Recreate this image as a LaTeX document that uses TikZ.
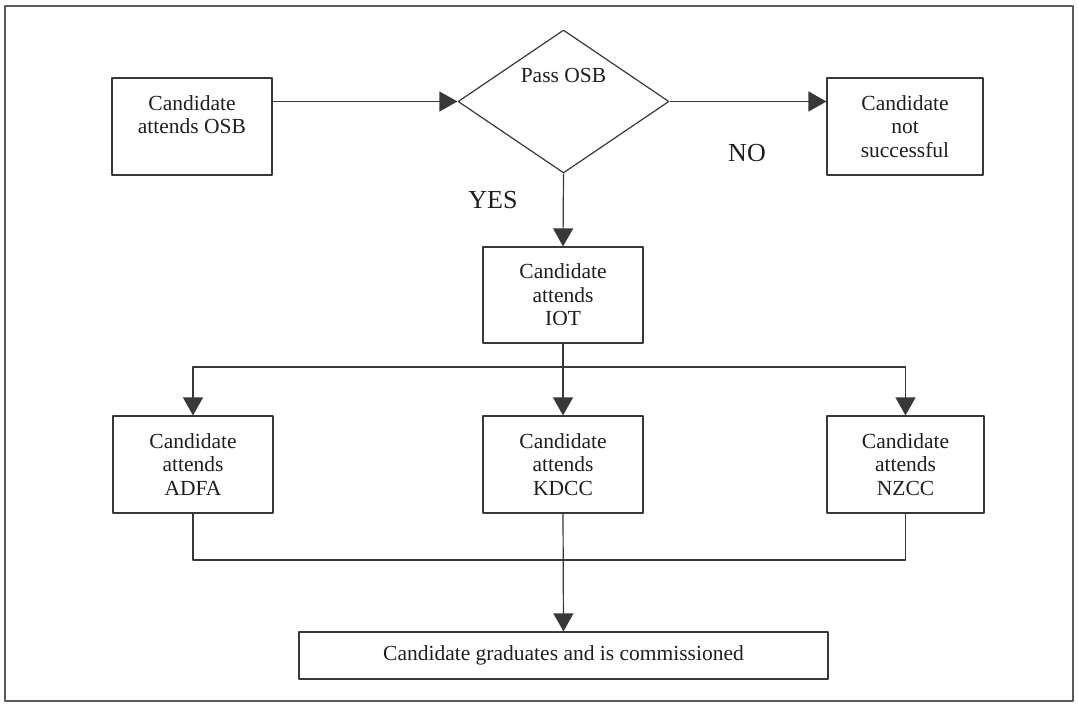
\documentclass[tikz,border=0pt]{standalone}
\usepackage{fontspec}
\setmainfont{Liberation Serif}
\usepackage{tikz}
\usetikzlibrary{positioning, shapes.geometric, arrows.meta}
\definecolor{LineColour}{HTML}{383838}
\definecolor{FrameColour}{HTML}{5A5A5A}
\definecolor{TextColour}{HTML}{1E1E1E}

\tikzset{
    stage/.style    = {draw = LineColour, line width = 1.2pt, minimum width = 160pt, minimum height = 97pt,
                       inner sep = 0pt, align = center, text = TextColour, font = \fontsize{21.5}{23.5}\selectfont},
    decision/.style = {diamond, draw = LineColour, line width = 1.2pt, minimum width = 211pt, minimum height = 143pt,
                       aspect = 1.475, inner sep = 0pt, text height = 14pt, text depth = 53pt,
                       text = TextColour, font = \fontsize{21.5}{23.5}\selectfont},
    answer/.style   = {text = TextColour, inner sep = 0pt, font = \fontsize{26}{30}\selectfont},
    flow/.style     = {draw = LineColour, line width = 1.2pt},
    arr/.style      = {flow, -{Triangle[length = 18pt, width = 20pt]}},
}

\begin{document}
\begin{tikzpicture}[x = 1pt, y = -1pt, line join = round]

    \useasboundingbox (0, 0) rectangle (1078, 704);
    \draw[FrameColour, line width = 1.6pt] (5, 6) rectangle (1073, 701);

    % selection board
    \node[stage]                       (osb)  at (192, 126.5)   {Candidate\\attends OSB\\~};
    \node[decision]                    (pass) at (563.5, 101.5) {Pass OSB};
    \node[stage, minimum width = 156pt] (fail) at (905, 126.5)  {Candidate\\not\\successful};

    \node[answer] (no)  at (747, 153) {NO};
    \node[answer] (yes) at (493, 200) {YES};

    % training
    \node[stage, minimum height = 96pt] (iot)  at (563, 295)   {Candidate\\attends\\IOT};
    \node[stage]                        (adfa) at (193, 464.5) {Candidate\\attends\\ADFA};
    \node[stage]                        (kdcc) at (563, 464.5) {Candidate\\attends\\KDCC};
    \node[stage, minimum width = 157pt] (nzcc) at (905.5, 464.5) {Candidate\\attends\\NZCC};

    \node[stage, minimum width = 529pt, minimum height = 47pt] (grad) at (563.5, 655.5)
        {Candidate graduates and is commissioned};

    \draw[arr] (osb.east |- pass.west) -- (pass.west);
    \draw[arr] (pass.east) -- (fail.west |- pass.east);
    \draw[arr] (pass.south) -- (iot.north);

    \coordinate (split) at (iot.south |- 0, 367);
    \coordinate (merge) at (kdcc.south |- 0, 560);
    \draw[arr]  (iot.south) -- (kdcc.north);
    \draw[arr]  (split) -| (adfa.north);
    \draw[arr]  (split) -| (nzcc.north);

    \draw[flow] (adfa.south) |- (merge);
    \draw[flow] (nzcc.south) |- (merge);
    \draw[arr]  (kdcc.south) -- (grad.north);

\end{tikzpicture}
\end{document}
